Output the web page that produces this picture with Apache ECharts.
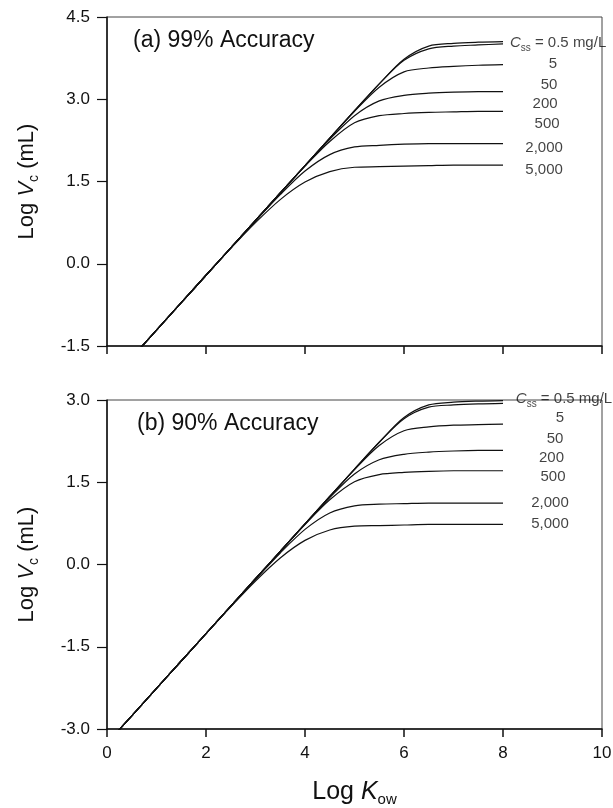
<!DOCTYPE html>
<html>
<head>
<meta charset="utf-8">
<script src="https://cdn.jsdelivr.net/npm/echarts@6/dist/echarts.min.js"></script>
<style>
html, body { margin: 0; padding: 0; background: #fff; }
#chart { width: 613px; height: 808px; }
</style>
</head>
<body>
<div id="chart"></div>
<script>
// Log Kow sample points (shared by both panels)
const logKow = [0, 0.5, 1, 1.5, 2, 2.5, 3, 3.5, 4, 4.5, 5, 5.5, 6, 6.5, 7, 7.5, 8]

// Css curve labels
const cssLabels = ['0.5', '5', '50', '200', '500', '2,000', '5,000']

// (a) 99% Accuracy, Log Vc
const top05 = [-2.21, -1.71, -1.21, -0.71, -0.21, 0.29, 0.79, 1.29, 1.79, 2.29, 2.79, 3.28, 3.73, 3.97, 4.02, 4.04, 4.05]
const top5 = [-2.21, -1.71, -1.21, -0.71, -0.21, 0.29, 0.79, 1.29, 1.79, 2.29, 2.79, 3.28, 3.71, 3.92, 3.97, 3.99, 4.01]
const top50 = [-2.21, -1.71, -1.21, -0.71, -0.21, 0.29, 0.79, 1.29, 1.79, 2.29, 2.78, 3.22, 3.50, 3.57, 3.60, 3.62, 3.63]
const top200 = [-2.21, -1.71, -1.21, -0.71, -0.21, 0.29, 0.79, 1.29, 1.79, 2.27, 2.70, 2.97, 3.07, 3.11, 3.13, 3.14, 3.14]
const top500 = [-2.21, -1.71, -1.21, -0.71, -0.21, 0.29, 0.79, 1.29, 1.78, 2.23, 2.57, 2.70, 2.74, 2.76, 2.77, 2.78, 2.78]
const top2000 = [-2.21, -1.71, -1.21, -0.71, -0.21, 0.29, 0.78, 1.26, 1.69, 1.99, 2.13, 2.16, 2.18, 2.19, 2.19, 2.19, 2.19]
const top5000 = [-2.21, -1.71, -1.21, -0.71, -0.21, 0.28, 0.75, 1.17, 1.49, 1.68, 1.76, 1.77, 1.78, 1.79, 1.80, 1.80, 1.80]

// (b) 90% Accuracy, Log Vc
const bot05 = [-3.26, -2.76, -2.26, -1.76, -1.26, -0.76, -0.26, 0.24, 0.74, 1.24, 1.74, 2.23, 2.68, 2.91, 2.96, 2.98, 2.99]
const bot5 = [-3.26, -2.76, -2.26, -1.76, -1.26, -0.76, -0.26, 0.24, 0.74, 1.24, 1.74, 2.23, 2.66, 2.87, 2.91, 2.93, 2.94]
const bot50 = [-3.26, -2.76, -2.26, -1.76, -1.26, -0.76, -0.26, 0.24, 0.74, 1.24, 1.73, 2.17, 2.44, 2.51, 2.54, 2.55, 2.56]
const bot200 = [-3.26, -2.76, -2.26, -1.76, -1.26, -0.76, -0.26, 0.24, 0.74, 1.22, 1.65, 1.91, 2.01, 2.05, 2.07, 2.08, 2.08]
const bot500 = [-3.26, -2.76, -2.26, -1.76, -1.26, -0.76, -0.26, 0.24, 0.73, 1.18, 1.51, 1.64, 1.68, 1.70, 1.71, 1.71, 1.71]
const bot2000 = [-3.26, -2.76, -2.26, -1.76, -1.26, -0.76, -0.27, 0.21, 0.64, 0.94, 1.07, 1.10, 1.11, 1.12, 1.12, 1.12, 1.12]
const bot5000 = [-3.26, -2.76, -2.26, -1.76, -1.26, -0.77, -0.30, 0.12, 0.44, 0.63, 0.70, 0.71, 0.72, 0.73, 0.73, 0.73, 0.73]

const topCurves = [top05, top5, top50, top200, top500, top2000, top5000]
const botCurves = [bot05, bot5, bot50, bot200, bot500, bot2000, bot5000]

// label anchors (Log Kow, Log Vc)
const labelAnchorTop = [[8.14, 4.03], [9.01, 3.64], [8.93, 3.26], [8.85, 2.91], [8.89, 2.55], [8.83, 2.11], [8.83, 1.71]]
const labelAnchorBot = [[8.26, 3.02], [9.15, 2.67], [9.05, 2.30], [8.98, 1.94], [9.01, 1.59], [8.95, 1.13], [8.95, 0.74]]

const FONT = 'Liberation Sans, Arial, Helvetica, sans-serif'
const INK = '#111'

const chart = echarts.init(document.getElementById('chart'))

const subRich = (size, subSize, pad) => ({
  n: { fontSize: size, fontFamily: FONT, color: INK },
  i: { fontSize: size, fontFamily: FONT, color: INK, fontStyle: 'italic' },
  s: { fontSize: subSize, fontFamily: FONT, color: INK, verticalAlign: 'bottom', padding: [pad, 0, 0, 0] }
})

const makeX = (gridIndex, showLabel) => ({
  type: 'value',
  gridIndex,
  min: 0,
  max: 10,
  interval: 2,
  splitLine: { show: false },
  axisLine: { show: true, onZero: false, lineStyle: { color: INK, width: 1.5 } },
  axisTick: { show: true, inside: false, length: 8, lineStyle: { color: INK, width: 1.5 } },
  axisLabel: { show: showLabel, margin: 16, fontSize: 17, fontFamily: FONT, color: INK },
  name: showLabel ? '{n|Log }{i|K}{s|ow}' : '',
  nameLocation: 'middle',
  nameGap: 48,
  nameTextStyle: { rich: subRich(25, 15, 15) }
})

const makeY = (gridIndex, min, max) => ({
  type: 'value',
  gridIndex,
  min,
  max,
  interval: 1.5,
  splitLine: { show: false },
  axisLine: { show: true, onZero: false, lineStyle: { color: INK, width: 1.5 } },
  axisTick: { show: true, inside: false, length: 10, lineStyle: { color: INK, width: 1.2 } },
  axisLabel: { margin: 17, fontSize: 17, fontFamily: FONT, color: INK, formatter: v => v.toFixed(1) },
  name: '{n|Log }{i|V}{s|c}{n| (mL)}',
  nameLocation: 'middle',
  nameGap: 66,
  nameTextStyle: { rich: subRich(22, 14, 14) }
})

const curveSeries = (curves, idx) => curves.map((ys, k) => ({
  type: 'line',
  name: cssLabels[k],
  xAxisIndex: idx,
  yAxisIndex: idx,
  data: logKow.map((x, j) => [x, ys[j]]),
  showSymbol: false,
  symbol: 'none',
  smooth: 0.3,
  clip: true,
  lineStyle: { color: INK, width: 1.2 },
  z: 3
}))

const labelSeries = (anchors, idx) => ({
  type: 'scatter',
  xAxisIndex: idx,
  yAxisIndex: idx,
  symbolSize: 0,
  clip: false,
  silent: true,
  data: anchors.map((p, k) => ({
    value: p,
    label: {
      show: true,
      position: 'inside',
      align: k === 0 ? 'left' : 'center',
      formatter: k === 0 ? '{i|C}{s|ss}{n| = ' + cssLabels[0] + ' mg/L}' : '{n|' + cssLabels[k] + '}',
      rich: subRich(15, 10, 11)
    }
  })),
  z: 5
})

const option = {
  animation: false,
  backgroundColor: '#fff',
  title: [
    { text: '(a) 99% Accuracy', left: 128, top: 24, textStyle: { fontSize: 23, fontWeight: 'normal', fontFamily: FONT, color: INK } },
    { text: '(b) 90% Accuracy', left: 132, top: 407, textStyle: { fontSize: 23, fontWeight: 'normal', fontFamily: FONT, color: INK } }
  ],
  grid: [
    { left: 107, top: 17, width: 495, height: 329, show: true, borderColor: '#444', borderWidth: 1, backgroundColor: 'transparent', containLabel: false, outerBoundsMode: 'none' },
    { left: 107, top: 400, width: 495, height: 329, show: true, borderColor: '#444', borderWidth: 1, backgroundColor: 'transparent', containLabel: false, outerBoundsMode: 'none' }
  ],
  xAxis: [makeX(0, false), makeX(1, true)],
  yAxis: [makeY(0, -1.5, 4.5), makeY(1, -3, 3)],
  series: [
    ...curveSeries(topCurves, 0),
    ...curveSeries(botCurves, 1),
    labelSeries(labelAnchorTop, 0),
    labelSeries(labelAnchorBot, 1)
  ]
}

chart.setOption(option)
</script>
</body>
</html>
